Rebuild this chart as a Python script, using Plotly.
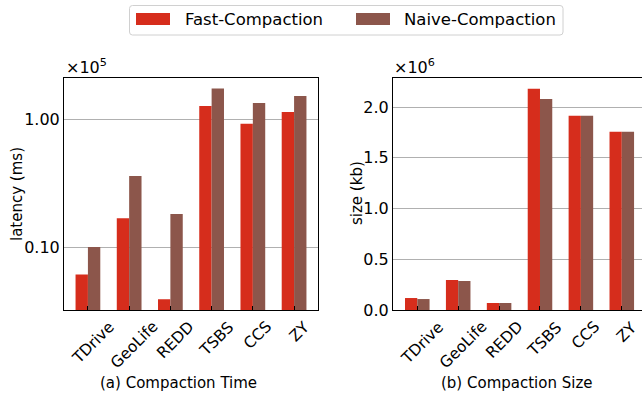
import math
import plotly.graph_objects as go

categories = ["TDrive", "GeoLife", "REDD", "TSBS", "CCS", "ZY"]
series_names = ["Fast-Compaction", "Naive-Compaction"]
colors = ["#d62d1c", "#8c564b"]
# latency in units of 1e5 ms
latency_fast = [0.061, 0.168, 0.039, 1.27, 0.92, 1.14]
latency_naive = [0.100, 0.359, 0.181, 1.74, 1.34, 1.52]
# size in units of 1e6 kb
size_fast = [0.118, 0.296, 0.069, 2.18, 1.915, 1.757]
size_naive = [0.108, 0.286, 0.069, 2.08, 1.915, 1.757]
left_ticks = [0.1, 1.0]
left_ticktext = ["0.10", "1.00"]
right_ticks = [0.0, 0.5, 1.0, 1.5, 2.0]
right_ticktext = ["0.0", "0.5", "1.0", "1.5", "2.0"]

W, H = 642, 408
FONT = "DejaVu Sans"

def px(x):
    return x / W

def py(y):
    return 1 - y / H

fig = go.Figure()
xidx = list(range(len(categories)))
for name, color, vals in zip(series_names, colors, [latency_fast, latency_naive]):
    fig.add_trace(go.Bar(x=xidx, y=vals, name=name, marker=dict(color=color, line=dict(width=0)),
                         xaxis="x", yaxis="y", offsetgroup=name, showlegend=False))
for name, color, vals in zip(series_names, colors, [size_fast, size_naive]):
    fig.add_trace(go.Bar(x=xidx, y=vals, name=name, marker=dict(color=color, line=dict(width=0)),
                         xaxis="x2", yaxis="y2", offsetgroup=name, showlegend=False))

ydom = [py(310), py(78)]
x1dom = [px(64), px(318)]
x2dom = [px(393), 1.0]
x2_end = -0.594 + (642 - 393) / 40.9

fig.update_layout(
    template="none",
    width=W, height=H, autosize=False,
    margin=dict(l=0, r=0, t=0, b=0, pad=0),
    paper_bgcolor="white", plot_bgcolor="white",
    barmode="group", bargap=0.4, bargroupgap=0,
    font=dict(family=FONT, color="black", size=15),
    xaxis=dict(domain=x1dom, anchor="y", range=[-0.58, 5.58], tickvals=xidx, showticklabels=False,
               ticks="inside", ticklen=4, tickcolor="black", showline=True, linecolor="black",
               linewidth=1, mirror=True, showgrid=False, zeroline=False, automargin=False),
    yaxis=dict(domain=ydom, anchor="x", type="log",
               range=[math.log10(0.0322), math.log10(2.10)],
               tickvals=left_ticks, ticktext=left_ticktext, ticks="", tickfont=dict(size=16),
               showline=True, linecolor="black", linewidth=1, mirror=True,
               showgrid=True, gridcolor="#b0b0b0", gridwidth=1, zeroline=False, automargin=False),
    xaxis2=dict(domain=x2dom, anchor="y2", range=[-0.594, x2_end], tickvals=xidx, showticklabels=False,
                ticks="inside", ticklen=4, tickcolor="black", showline=True, linecolor="black",
                linewidth=1, mirror=True, showgrid=False, zeroline=False, automargin=False),
    yaxis2=dict(domain=ydom, anchor="x2", range=[0, 2.287],
                tickvals=right_ticks, ticktext=right_ticktext, ticks="", tickfont=dict(size=16),
                showline=True, linecolor="black", linewidth=1, mirror=False,
                showgrid=True, gridcolor="#b0b0b0", gridwidth=1, zeroline=False, automargin=False),
)

def txt(x, y, text, size=15, angle=0, xa="center", ya="middle", xref="paper", xshift=0):
    return dict(x=x, y=y, xref=xref, yref="paper", text=text, showarrow=False, textangle=angle,
                xanchor=xa, yanchor=ya, xshift=xshift, font=dict(size=size, family=FONT, color="black"))

annotations = []
for i, c in enumerate(categories):
    for xa in ["x", "x2"]:
        annotations.append(txt(i, py(315), c, size=15.5, angle=-45, xa="center", ya="top",
                               xref=xa, xshift=5))
annotations.append(txt(px(178.5), py(383), "(a) Compaction Time"))
annotations.append(txt(px(517), py(383), "(b) Compaction Size"))
annotations.append(txt(px(17), py(194), "latency (ms)", angle=-90))
annotations.append(txt(px(357), py(193), "size (kb)", angle=-90))
annotations.append(txt(px(64), py(79), "×10<sup>5</sup>", size=16, xa="left", ya="bottom"))
annotations.append(txt(px(392), py(79), "×10<sup>6</sup>", size=16, xa="left", ya="bottom"))
# legend
annotations.append(txt(px(183), py(19.5), series_names[0], size=16.5, xa="left"))
annotations.append(txt(px(402), py(19.5), series_names[1], size=16.5, xa="left"))

def rounded_rect(l, t, r, b, rad):
    X = lambda v: v / W
    Y = lambda v: 1 - v / H
    return (f"M{X(l+rad)},{Y(t)} L{X(r-rad)},{Y(t)} Q{X(r)},{Y(t)} {X(r)},{Y(t+rad)} "
            f"L{X(r)},{Y(b-rad)} Q{X(r)},{Y(b)} {X(r-rad)},{Y(b)} L{X(l+rad)},{Y(b)} "
            f"Q{X(l)},{Y(b)} {X(l)},{Y(b-rad)} L{X(l)},{Y(t+rad)} Q{X(l)},{Y(t)} {X(l+rad)},{Y(t)} Z")

shapes = [
    dict(type="path", xref="paper", yref="paper", path=rounded_rect(129.5, 5.5, 563, 35, 3),
         line=dict(color="#d0d0d0", width=1), fillcolor="rgba(255,255,255,0.8)", layer="above"),
    dict(type="rect", xref="paper", yref="paper", x0=px(136), x1=px(170), y0=py(25), y1=py(13),
         fillcolor=colors[0], line=dict(width=0)),
    dict(type="rect", xref="paper", yref="paper", x0=px(356), x1=px(390), y0=py(25), y1=py(13),
         fillcolor=colors[1], line=dict(width=0)),
]
fig.update_layout(annotations=annotations, shapes=shapes)
fig.write_html("out.html")
